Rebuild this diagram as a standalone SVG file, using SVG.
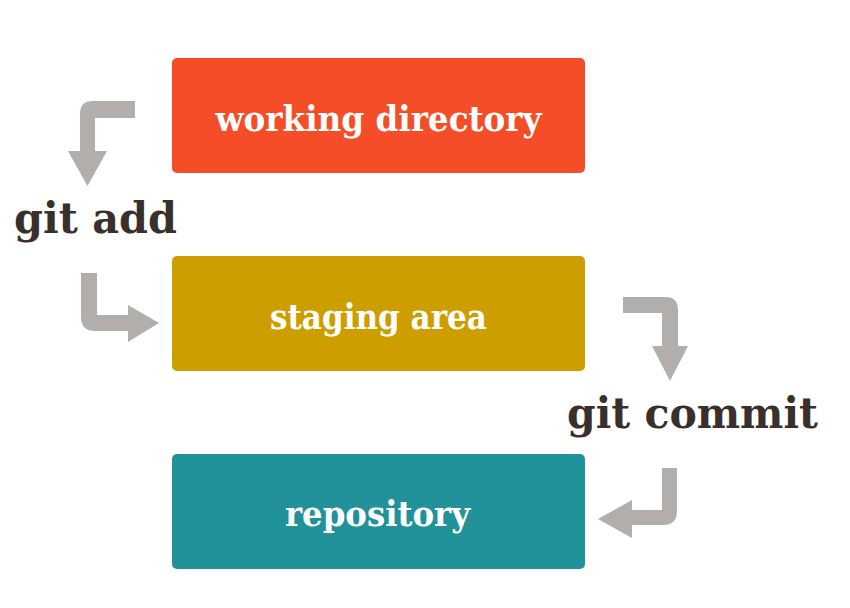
<svg xmlns="http://www.w3.org/2000/svg" width="850" height="608" viewBox="0 0 850 608">
<style>
.box{stroke:none}
.lbl{font-family:"DejaVu Serif","Liberation Serif",serif;font-weight:bold;fill:#ffffff;font-size:36px}
.cmd{font-family:"DejaVu Serif","Liberation Serif",serif;font-weight:bold;fill:#3a302b;font-size:43px}
.arr{fill:#b1aeab;stroke:none}
</style>
<rect width="850" height="608" fill="#ffffff"/>
<g id="working-directory">
<rect class="box" x="172" y="58" width="413" height="115" rx="5" fill="#f44d27"/>
<text class="lbl" x="378.5" y="131" text-anchor="middle" textLength="326" lengthAdjust="spacingAndGlyphs">working directory</text>
</g>
<g id="staging-area">
<rect class="box" x="172" y="256" width="413" height="115" rx="5" fill="#cd9e00"/>
<text class="lbl" x="378.5" y="329" text-anchor="middle" textLength="217" lengthAdjust="spacingAndGlyphs">staging area</text>
</g>
<g id="repository">
<rect class="box" x="172" y="454" width="413" height="115" rx="5" fill="#21919a"/>
<text class="lbl" x="377.5" y="526" text-anchor="middle" textLength="185" lengthAdjust="spacingAndGlyphs">repository</text>
</g>
<g id="git-add">
<text class="cmd" x="14" y="233" textLength="163" lengthAdjust="spacingAndGlyphs">git add</text>
</g>
<g id="git-commit">
<text class="cmd" x="567" y="428" textLength="251" lengthAdjust="spacingAndGlyphs">git commit</text>
</g>
<g id="connectors">
<path class="arr" d="M135,101 L93,101 Q80,101 80,114 L80,151 L68,151 L87.5,186 L107,151 L95,151 L95,118 L135,118 Z"/>
<path class="arr" d="M81,273 L97,273 L97,315 L128,315 L128,305 L159,323 L128,342 L128,331 L95,331 Q81,331 81,317 Z"/>
<path class="arr" d="M623,297 L665,297 Q678,297 678,310 L678,346 L688,346 L670,381 L652,346 L662,346 L662,313 L623,313 Z"/>
<path class="arr" d="M662,468 L677,468 L677,511 Q677,525 663,525 L632,525 L632,538 L598,519 L632,500 L632,510 L662,510 Z"/>
</g>
</svg>
